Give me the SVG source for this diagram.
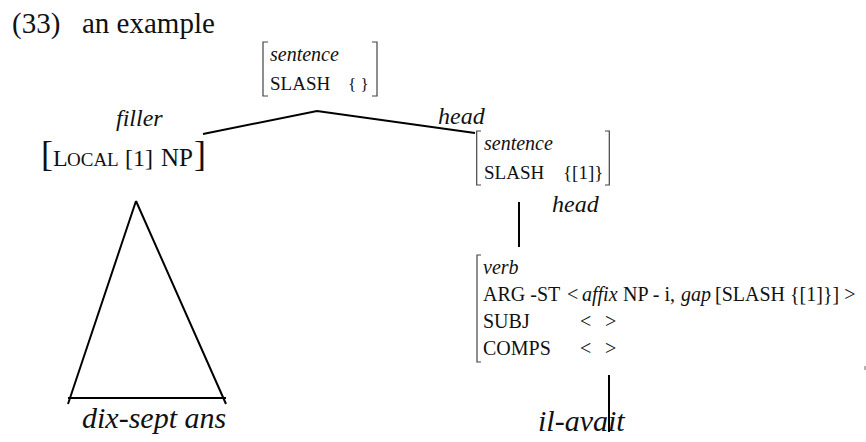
<svg xmlns="http://www.w3.org/2000/svg" width="866" height="442" viewBox="0 0 866 442">
<style>
text{font-family:"Liberation Serif","Times New Roman",serif;fill:#111}
.it{font-style:italic}
.f20{font-size:20px}
.br{fill:none;stroke:#444;stroke-width:1.2}
.ln{fill:none;stroke:#000;stroke-width:2}
</style>
<rect width="866" height="442" fill="#fff"/>
<text x="12" y="33" font-size="29">(33)</text>
<text x="82" y="33" font-size="29">an example</text>

<g id="root">
<path class="br" d="M268,42 H263 V96 H268"/>
<path class="br" d="M372,42 H377 V96 H372"/>
<text x="270" y="61" class="it f20">sentence</text>
<text x="270" y="90" font-size="19">SLASH</text>
<text x="348" y="90" font-size="17" fill="#333">{ }</text>
</g>

<g id="filler">
<text x="116" y="126" class="it" font-size="24">filler</text>
<text y="166"><tspan x="41" font-size="36">[</tspan><tspan x="53" font-size="24">L</tspan><tspan x="67" font-size="19">OCAL</tspan><tspan x="125" font-size="24">[1]</tspan><tspan x="161" font-size="25">NP</tspan><tspan x="194" font-size="36">]</tspan></text>
</g>

<g id="head-s">
<text x="438" y="124" class="it" font-size="24">head</text>
<path class="br" d="M481,131 H476.7 V185 H481"/>
<path class="br" d="M605,131 H609.3 V185 H605"/>
<text x="484" y="150" class="it f20">sentence</text>
<text x="484" y="179" font-size="19">SLASH</text>
<text x="563" y="179" font-size="19">{[1]}</text>
</g>

<g id="verb">
<text x="552" y="212" class="it" font-size="24">head</text>
<path class="br" d="M481,255 H477 V362 H481"/>
<text x="483" y="274" class="it f20">verb</text>
<text x="483" y="301" class="f20">ARG -ST</text>
<text y="301" class="f20"><tspan x="567">&lt;</tspan><tspan x="582" class="it">affix</tspan><tspan x="623">NP - i,</tspan><tspan x="681" class="it">gap</tspan><tspan x="715">[SLASH {[1]}] &gt;</tspan></text>
<text x="483" y="328" class="f20">SUBJ</text>
<text x="580" y="328" class="f20">&lt;</text>
<text x="605" y="328" class="f20">&gt;</text>
<text x="483" y="355" class="f20">COMPS</text>
<text x="580" y="355" class="f20">&lt;</text>
<text x="605" y="355" class="f20">&gt;</text>
<path d="M865,366 V370" stroke="#666" stroke-width="1"/>
</g>

<g id="np-tri">
<path class="ln" d="M136,201 L68,404 M136,201 L226,404 M68,398 H226"/>
<text x="82" y="428" class="it" font-size="30">dix-sept ans</text>
</g>

<g id="word">
<text x="538" y="431" class="it" font-size="30">il-avait</text>
</g>

<g id="connectors">
<path class="ln" d="M203,134 L317,111 L475,133"/>
<path class="ln" d="M519,202 V247"/>
<path class="ln" d="M609,375 V432"/>
</g>
</svg>
